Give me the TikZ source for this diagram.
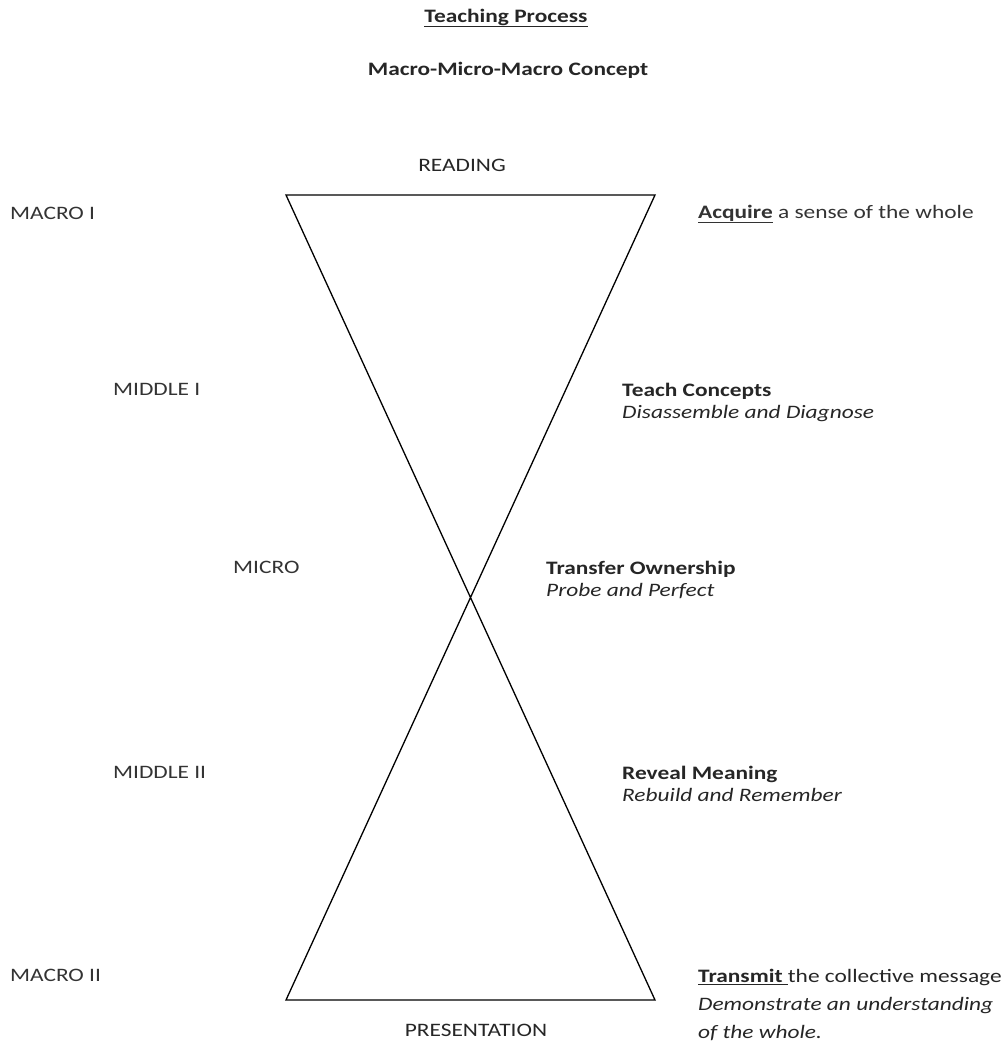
\documentclass[tikz,border=0pt]{standalone}
\usepackage{fontspec}
\setmainfont{Carlito}[FakeStretch=1.23]
\usetikzlibrary{positioning}

\begin{document}
\begin{tikzpicture}[x=1pt, y=-1pt, font=\fontsize{19}{23}\selectfont,
	lbl/.style={anchor=west, inner sep=0pt, text=black!80},
	ctxt/.style={anchor=center, inner sep=0pt, text=black!85},
	side/.style={anchor=north west, inner sep=0pt, align=left, text=black!85}]
	\def\Lx{286}
	\def\Rx{655}
	\def\Ty{195}
	\def\By{1000}

	\useasboundingbox (0,0) rectangle (1006,1045);

	% titles
	\node[ctxt] (title) at (506,18) {\textbf{\underline{Teaching Process}}};
	\node[ctxt] (concept) at (508,70) {\textbf{Macro-Micro-Macro Concept}};

	% hourglass
	\coordinate (tl) at (\Lx,\Ty);
	\coordinate (tr) at (\Rx,\Ty);
	\coordinate (bl) at (\Lx,\By);
	\coordinate (br) at (\Rx,\By);
	\draw[line width=1.3pt, line join=miter] (tl) -- (tr) -- (bl) -- (br) -- cycle;

	\node[ctxt] (reading) at (462,165) {READING};
	\node[ctxt] (presentation) at (476,1030) {PRESENTATION};

	% levels
	\node[lbl] (macroI) at (10,213) {MACRO I};
	\node[lbl] (middleI) at (113,389) {MIDDLE I};
	\node[lbl] (micro) at (233,567) {MICRO};
	\node[lbl] (middleII) at (113,772) {MIDDLE II};
	\node[lbl] (macroII) at (10,975) {MACRO II};

	% steps
	\node[lbl] (acquire) at (698,214) {\textbf{\underline{Acquire}} a sense of the whole};
	\node[side] (teach) at (622,383) {\textbf{Teach Concepts}\\[-1pt]\textit{Disassemble and Diagnose}};
	\node[side] (transfer) at (546,561) {\textbf{Transfer Ownership}\\[-1pt]\textit{Probe and Perfect}};
	\node[side] (reveal) at (622,766) {\textbf{Reveal Meaning}\\[-1pt]\textit{Rebuild and Remember}};
	\node[side] (transmit) at (698,969) {\textbf{\underline{Transmit\ }}the collective message\\[5pt]\textit{Demonstrate an understanding}\\[5pt]\textit{of the whole.}};
\end{tikzpicture}
\end{document}
